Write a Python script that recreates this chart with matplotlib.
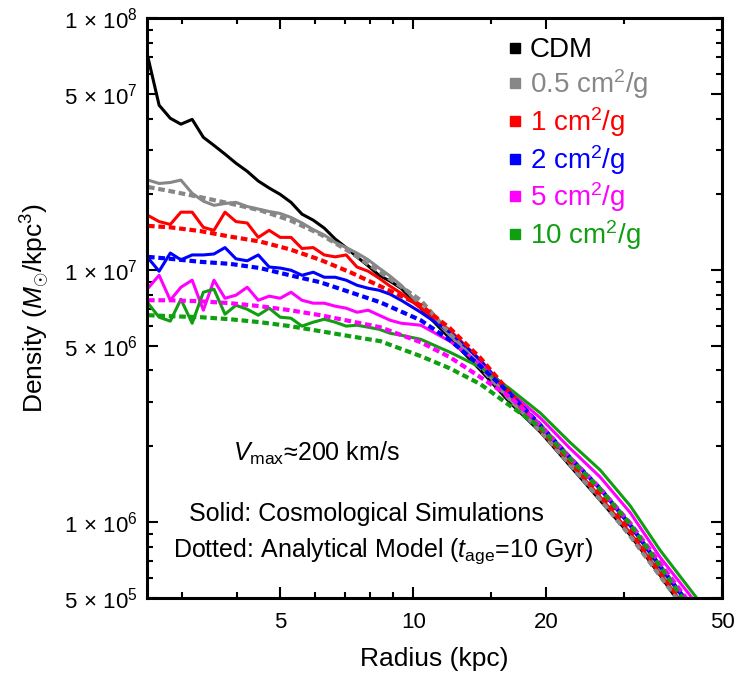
# Profile gestosci: symulacje (linie ciagle) i model analityczny (kropkowane)
import matplotlib.pyplot as plt
from matplotlib.lines import Line2D
from matplotlib.ticker import FixedLocator, FixedFormatter, NullFormatter

plt.rcParams['font.family'] = ['Liberation Sans', 'DejaVu Sans']
plt.rcParams['mathtext.fontset'] = 'custom'
plt.rcParams['mathtext.rm'] = 'Liberation Sans'
plt.rcParams['mathtext.it'] = 'Liberation Sans:italic'
plt.rcParams['mathtext.bf'] = 'Liberation Sans:bold'

# Promienie (kpc) dla symulacji
r_sim = [2.51, 2.66, 2.82, 2.98, 3.16, 3.35, 3.54, 3.75, 3.97, 4.21, 4.46, 4.72,
         5.00, 5.29, 5.60, 5.94, 6.29, 6.66, 7.05, 7.46, 7.91, 8.37, 8.87, 9.39,
         10.4, 12.1, 14.2, 16.6, 19.4, 22.6, 26.5, 31.0, 36.2, 42.3, 49.5]

# Gestosc (Msun/kpc^3) z symulacji
rho_cdm = [7.00e7, 4.52e7, 4.01e7, 3.80e7, 3.97e7, 3.37e7, 3.13e7, 2.89e7, 2.66e7, 2.47e7, 2.26e7, 2.12e7,
           2.00e7, 1.86e7, 1.67e7, 1.58e7, 1.47e7, 1.33e7, 1.23e7, 1.13e7, 1.04e7, 9.55e6, 9.04e6, 8.48e6,
           7.07e6, 5.37e6, 4.01e6, 2.97e6, 2.28e6, 1.68e6, 1.22e6, 8.88e5, 6.16e5, 4.16e5, 2.83e5]
rho_05 = [2.28e7, 2.21e7, 2.23e7, 2.28e7, 2.02e7, 1.88e7, 1.81e7, 1.84e7, 1.86e7, 1.79e7, 1.75e7, 1.71e7,
          1.68e7, 1.62e7, 1.54e7, 1.45e7, 1.38e7, 1.29e7, 1.23e7, 1.17e7, 1.10e7, 1.02e7, 9.47e6, 8.72e6,
          7.20e6, 5.52e6, 4.16e6, 3.05e6, 2.32e6, 1.71e6, 1.25e6, 9.04e5, 6.33e5, 4.31e5, 2.97e5]
rho_1 = [1.65e7, 1.56e7, 1.52e7, 1.70e7, 1.70e7, 1.48e7, 1.44e7, 1.70e7, 1.56e7, 1.54e7, 1.35e7, 1.44e7,
         1.35e7, 1.35e7, 1.22e7, 1.23e7, 1.15e7, 1.13e7, 1.15e7, 1.03e7, 9.91e6, 9.30e6, 8.64e6, 8.10e6,
         7.07e6, 5.78e6, 4.39e6, 3.16e6, 2.32e6, 1.73e6, 1.26e6, 9.04e5, 6.22e5, 4.31e5, 3.02e5]
rho_2 = [1.12e7, 9.91e6, 1.17e7, 1.10e7, 1.15e7, 1.15e7, 1.16e7, 1.23e7, 1.11e7, 1.09e7, 1.15e7, 1.03e7,
         1.02e7, 1.00e7, 9.55e6, 9.82e6, 9.38e6, 9.38e6, 9.13e6, 8.72e6, 8.48e6, 8.33e6, 8.03e6, 7.60e6,
         6.81e6, 5.68e6, 4.39e6, 3.22e6, 2.43e6, 1.81e6, 1.36e6, 9.73e5, 6.69e5, 4.73e5, 3.25e5]
rho_5 = [8.48e6, 9.55e6, 7.60e6, 8.56e6, 9.13e6, 6.94e6, 9.13e6, 7.74e6, 7.96e6, 8.56e6, 7.60e6, 7.89e6,
         7.74e6, 8.18e6, 7.60e6, 7.40e6, 7.40e6, 7.20e6, 7.07e6, 6.81e6, 6.94e6, 6.63e6, 6.33e6, 6.16e6,
         6.05e6, 5.23e6, 4.24e6, 3.28e6, 2.59e6, 1.97e6, 1.51e6, 1.09e6, 7.26e5, 5.13e5, 3.56e5]
rho_10 = [7.40e6, 6.51e6, 6.28e6, 7.67e6, 6.16e6, 8.18e6, 8.41e6, 6.69e6, 7.26e6, 7.00e6, 6.63e6, 7.07e6,
          6.51e6, 6.45e6, 6.00e6, 6.22e6, 6.39e6, 6.22e6, 6.00e6, 6.05e6, 5.94e6, 5.83e6, 5.62e6, 5.52e6,
          5.32e6, 4.73e6, 4.12e6, 3.37e6, 2.71e6, 2.08e6, 1.61e6, 1.16e6, 7.74e5, 5.42e5, 3.80e5]

# Promienie (kpc) dla modelu analitycznego
r_model = [2.51, 2.82, 3.30, 3.85, 4.50, 5.26, 6.16, 7.20, 8.42,
           10.4, 12.1, 14.2, 16.6, 19.4, 22.6, 26.5, 31.0, 36.2, 42.3, 49.5]

model_05 = [2.14e7, 2.06e7, 1.95e7, 1.84e7, 1.73e7, 1.58e7, 1.39e7, 1.18e7, 9.82e6,
            7.60e6, 5.62e6, 4.12e6, 3.05e6, 2.30e6, 1.70e6, 1.23e6, 8.80e5, 6.11e5, 4.24e5, 2.97e5]
model_1 = [1.50e7, 1.48e7, 1.43e7, 1.36e7, 1.30e7, 1.21e7, 1.10e7, 9.82e6, 8.64e6,
           7.26e6, 5.89e6, 4.48e6, 3.25e6, 2.38e6, 1.76e6, 1.30e6, 9.30e5, 6.45e5, 4.48e5, 3.11e5]
model_2 = [1.13e7, 1.11e7, 1.08e7, 1.06e7, 1.02e7, 9.55e6, 8.96e6, 8.18e6, 7.46e6,
           6.33e6, 5.28e6, 4.16e6, 3.22e6, 2.43e6, 1.81e6, 1.36e6, 9.73e5, 6.69e5, 4.64e5, 3.22e5]
model_5 = [7.60e6, 7.60e6, 7.53e6, 7.40e6, 7.20e6, 6.94e6, 6.63e6, 6.28e6, 5.94e6,
           5.18e6, 4.52e6, 3.76e6, 3.13e6, 2.43e6, 1.81e6, 1.36e6, 9.91e5, 6.88e5, 4.77e5, 3.31e5]
model_10 = [6.63e6, 6.57e6, 6.51e6, 6.39e6, 6.22e6, 6.00e6, 5.73e6, 5.47e6, 5.23e6,
            4.56e6, 4.08e6, 3.53e6, 2.89e6, 2.38e6, 1.79e6, 1.35e6, 9.82e5, 6.69e5, 4.56e5, 3.16e5]

labels = ['CDM', r'0.5 cm$^2$/g', r'1 cm$^2$/g', r'2 cm$^2$/g', r'5 cm$^2$/g', r'10 cm$^2$/g']
colors = ['black', '#878787', '#ff0000', '#0000ff', '#ff00ff', '#109f10']

fig, ax = plt.subplots(figsize=(7.36, 6.78), dpi=100)
fig.subplots_adjust(left=0.2, right=0.981, bottom=0.118, top=0.973)

# Linie ciagle - symulacje
sims = [rho_cdm, rho_05, rho_1, rho_2, rho_5, rho_10]
for rho, c in zip(sims, colors):
    ax.plot(r_sim, rho, color=c, lw=2.2)

# Linie kropkowane - model
models = [model_05, model_1, model_2, model_5, model_10]
for rho, c in zip(models, colors[1:]):
    ax.plot(r_model, rho, color=c, lw=3.0, ls=(0, (1.6, 0.9)), dash_capstyle='butt')

ax.set_xscale('log')
ax.set_yscale('log')
ax.set_xlim(2.5, 50)
ax.set_ylim(5e5, 1e8)

ax.xaxis.set_major_locator(FixedLocator([5, 10, 20, 50]))
ax.xaxis.set_major_formatter(FixedFormatter(['5', '10', '20', '50']))
ax.xaxis.set_minor_locator(FixedLocator([3, 4, 6, 7, 8, 9, 15, 30]))
ax.xaxis.set_minor_formatter(NullFormatter())

ytick_vals = [5e5, 1e6, 5e6, 1e7, 5e7, 1e8]
ytick_text = [r'$5\,\times\,10^{5}$', r'$1\,\times\,10^{6}$', r'$5\,\times\,10^{6}$',
              r'$1\,\times\,10^{7}$', r'$5\,\times\,10^{7}$', r'$1\,\times\,10^{8}$']
ax.yaxis.set_major_locator(FixedLocator(ytick_vals))
ax.yaxis.set_major_formatter(FixedFormatter(ytick_text))
ax.yaxis.set_minor_locator(FixedLocator([6e5, 7e5, 8e5, 9e5, 2e6, 3e6, 4e6, 6e6, 7e6, 8e6, 9e6,
                                         2e7, 3e7, 4e7, 6e7, 7e7, 8e7, 9e7]))
ax.yaxis.set_minor_formatter(NullFormatter())

ax.tick_params(which='both', direction='in', top=True, right=True, width=1.5, labelsize=16)
ax.tick_params(which='major', length=8)
ax.tick_params(which='minor', length=4)
ax.tick_params(axis='x', which='major', pad=10)
ax.tick_params(axis='y', which='major', pad=7)
for s in ax.spines.values():
    s.set_linewidth(2.2)

ax.set_xlabel('Radius (kpc)', fontsize=19, labelpad=10)
ax.set_ylabel(r'Density ($M_{\odot}$/kpc$^{3}$)', fontsize=19, labelpad=8)

# Opisy
ax.text(0.294, 0.25, r'$V_{\rm max}$≈200 km/s', transform=ax.transAxes, fontsize=18,
        ha='center', va='center')
ax.text(0.381, 0.145, 'Solid: Cosmological Simulations', transform=ax.transAxes, fontsize=18,
        ha='center', va='center')
ax.text(0.410, 0.081, r'Dotted: Analytical Model ($t_{\rm age}$=10 Gyr)', transform=ax.transAxes,
        fontsize=18, ha='center', va='center')

# Legenda
handles = [Line2D([], [], ls='none', marker='s', markersize=7, color=c) for c in colors]
ax.legend(handles, labels, loc='upper left', bbox_to_anchor=(0.625, 0.967), frameon=False,
          fontsize=20, labelcolor='linecolor', handlelength=0.6, handletextpad=0.25,
          labelspacing=0.14, borderpad=0, borderaxespad=0)

fig.savefig('out.png', dpi=100)
